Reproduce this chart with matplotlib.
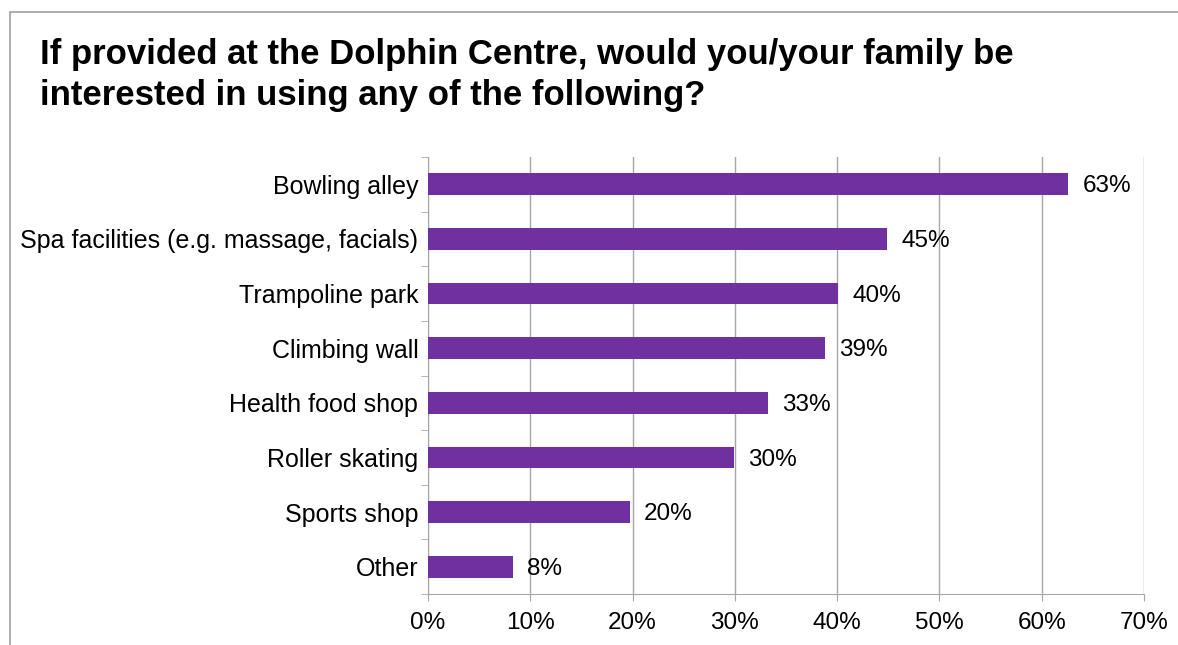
import matplotlib.pyplot as plt
from matplotlib.patches import Rectangle
from matplotlib.ticker import MultipleLocator, FuncFormatter

plt.rcParams['font.family'] = ['Liberation Sans', 'DejaVu Sans']

categories = ['Bowling alley', 'Spa facilities (e.g. massage, facials)',
              'Trampoline park', 'Climbing wall', 'Health food shop',
              'Roller skating', 'Sports shop', 'Other']
values = [62.6, 44.9, 40.1, 38.8, 33.2, 29.9, 19.7, 8.3]

bar_color = '#7030A0'
grid_color = '#A6A6A6'

fig = plt.figure(figsize=(11.78, 6.45), dpi=100)

# outer chart border (only top and left visible in the picture)
fig.patches.append(Rectangle((10 / 1178, -0.1), 1.2, 1 - 12 / 645 + 0.1,
                             transform=fig.transFigure, fill=False,
                             edgecolor='#A0A0A0', linewidth=1.2))

fig.text(40 / 1178, 1 - 38 / 645,
         'If provided at the Dolphin Centre, would you/your family be\n'
         'interested in using any of the following?',
         fontsize=25, fontweight='bold', ha='left', va='top',
         linespacing=1.3)

ax = fig.add_axes([428 / 1178, 1 - 594 / 645, 716 / 1178, 437 / 645])

pos = list(range(len(categories)))
ax.barh(pos, values, height=0.4, color=bar_color, zorder=3)

for p, v in zip(pos, values):
    ax.annotate(f'{round(v)}%', (v, p), xytext=(10.5, -1.5),
                textcoords='offset points', va='center', ha='left',
                fontsize=17.5)

ax.set_xlim(0, 70)
ax.set_ylim(len(categories) - 0.5, -0.5)
ax.xaxis.set_major_locator(MultipleLocator(10))
ax.xaxis.set_major_formatter(FuncFormatter(lambda x, _: f'{x:.0f}%'))
ax.set_yticks(pos)
ax.set_yticklabels(categories)
ax.set_yticks([p - 0.5 for p in pos] + [len(categories) - 0.5], minor=True)

ax.grid(axis='x', color=grid_color, linewidth=1, zorder=0)
for s in ['top', 'right']:
    ax.spines[s].set_visible(False)
for s in ['left', 'bottom']:
    ax.spines[s].set_color(grid_color)

ax.tick_params(axis='y', which='major', length=0, pad=7, labelsize=18)
ax.tick_params(axis='y', which='minor', length=5, color=grid_color)
ax.tick_params(axis='x', length=5, color=grid_color, pad=8, labelsize=17.5)

fig.savefig('out.png', dpi=100)
